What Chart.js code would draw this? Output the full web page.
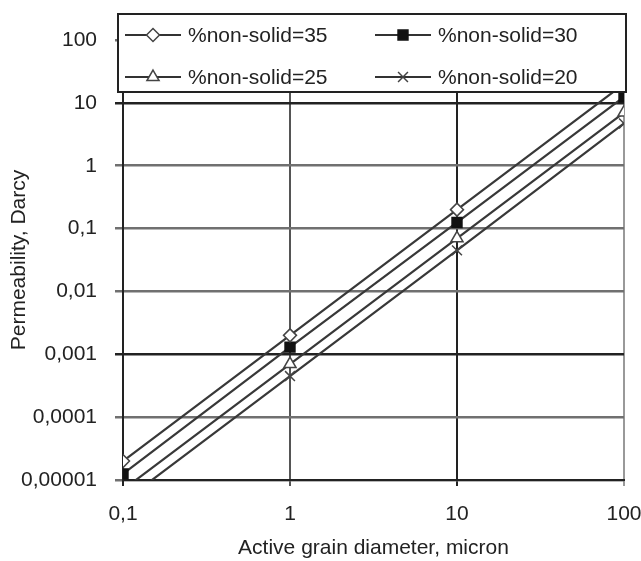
<!DOCTYPE html>
<html>
<head>
<meta charset="utf-8" />
<script src="https://cdn.jsdelivr.net/npm/chart.js"></script>
<style>
  body { margin: 0; background: #fff; }
</style>
</head>
<body>
<canvas id="chart" width="641" height="561"></canvas>
<script>
  // values
  const diameters = [0.1, 1, 10, 100];
  const seriesLabels = ['%non-solid=35', '%non-solid=30', '%non-solid=25', '%non-solid=20'];
  const perm35 = [0.00002, 0.002, 0.2, 20];
  const perm30 = [0.0000125, 0.0013, 0.125, 12.5];
  const perm25 = [0.000007, 0.0007, 0.07, 7];
  const perm20 = [0.0000045, 0.00045, 0.045, 4.7];

  const xTickValues = [0.1, 1, 10, 100];
  const xTickLabels = ['0,1', '1', '10', '100'];
  const yTickValues = [0.00001, 0.0001, 0.001, 0.01, 0.1, 1, 10, 100];
  const yTickLabels = ['0,00001', '0,0001', '0,001', '0,01', '0,1', '1', '10', '100'];

  const FONT = '"Liberation Sans", Arial, sans-serif';
  const TEXT = '#222';
  Chart.defaults.font.family = FONT;
  Chart.defaults.font.size = 21;
  Chart.defaults.color = TEXT;

  const markers = [
    { pointStyle: 'rectRot', radius: 6.5, bg: '#fff', border: '#444' },
    { pointStyle: 'rect', radius: 7, bg: '#111', border: '#111' },
    { pointStyle: 'triangle', radius: 7, bg: '#fff', border: '#444' },
    { pointStyle: 'crossRot', radius: 7, bg: '#444', border: '#444' },
  ];

  function makeSet(label, values, m) {
    return {
      label: label,
      data: diameters.map((d, i) => ({ x: d, y: values[i] })),
      borderColor: '#383838',
      borderWidth: 2.2,
      tension: 0,
      pointStyle: m.pointStyle,
      pointRadius: m.radius,
      pointBackgroundColor: m.bg,
      pointBorderColor: m.border,
      pointBorderWidth: 1.5,
    };
  }

  // legend drawn over the plot, two columns like the original
  const legendBox = {
    id: 'legendBox',
    afterDraw(chart) {
      const ctx = chart.ctx;
      ctx.save();
      ctx.fillStyle = '#fff';
      ctx.fillRect(118, 14, 508, 78);
      ctx.strokeStyle = '#222';
      ctx.lineWidth = 2;
      ctx.strokeRect(118, 14, 508, 78);
      chart.data.datasets.forEach((ds, i) => {
        const x0 = i % 2 === 0 ? 125 : 375;
        const y = i < 2 ? 35 : 77;
        ctx.strokeStyle = '#333';
        ctx.lineWidth = 2;
        ctx.beginPath();
        ctx.moveTo(x0, y);
        ctx.lineTo(x0 + 56, y);
        ctx.stroke();
        ctx.fillStyle = ds.pointBackgroundColor;
        ctx.strokeStyle = ds.pointBorderColor;
        ctx.lineWidth = 1.5;
        Chart.helpers.drawPoint(ctx, { pointStyle: ds.pointStyle, radius: ds.pointRadius, borderWidth: 1.5, rotation: 0 }, x0 + 28, y);
        ctx.fillStyle = TEXT;
        ctx.font = '21px ' + FONT;
        ctx.textBaseline = 'middle';
        ctx.textAlign = 'left';
        ctx.fillText(ds.label, x0 + 63, y + 1);
      });
      ctx.restore();
    }
  };

  const xGridColor = { 0.1: '#222', 1: '#555', 10: '#222', 100: '#999' };
  const darkRows = [10, 0.001];

  new Chart(document.getElementById('chart'), {
    type: 'line',
    data: {
      datasets: [
        makeSet(seriesLabels[0], perm35, markers[0]),
        makeSet(seriesLabels[1], perm30, markers[1]),
        makeSet(seriesLabels[2], perm25, markers[2]),
        makeSet(seriesLabels[3], perm20, markers[3]),
      ]
    },
    options: {
      responsive: false,
      animation: false,
      layout: { padding: { top: 40, right: 0, left: 0, bottom: 0 } },
      plugins: { legend: { display: false }, tooltip: { enabled: false } },
      scales: {
        x: {
          type: 'logarithmic',
          position: 'bottom',
          min: 0.1,
          max: 100,
          afterBuildTicks: (s) => { s.ticks = xTickValues.map((v) => ({ value: v, major: false })); },
          afterFit: (s) => { s.height = 81; s.paddingRight = 17; s.paddingLeft = 0; },
          ticks: { callback: (v, i) => xTickLabels[i], autoSkip: false, maxRotation: 0, padding: 16, color: TEXT },
          grid: {
            color: (c) => xGridColor[c.tick ? c.tick.value : 1] || '#666',
            lineWidth: 2,
            tickLength: 6,
          },
          border: { color: '#222', width: 2 },
          title: { display: true, text: 'Active grain diameter, micron', color: TEXT, padding: { top: 0, bottom: 0 } }
        },
        y: {
          type: 'logarithmic',
          min: 0.00001,
          max: 100,
          afterBuildTicks: (s) => { s.ticks = yTickValues.map((v) => ({ value: v, major: false })); },
          afterFit: (s) => { s.width = 123; },
          ticks: { callback: (v, i) => yTickLabels[i], autoSkip: false, padding: 18, color: TEXT },
          grid: {
            color: (c) => (c.tick && darkRows.includes(c.tick.value)) ? '#222' : '#707070',
            lineWidth: 2.5,
            tickLength: 8,
          },
          border: { color: '#222', width: 2 },
          title: { display: true, text: 'Permeability, Darcy', color: TEXT, padding: { top: 7, bottom: 0 } }
        }
      }
    },
    plugins: [legendBox]
  });
</script>
</body>
</html>
